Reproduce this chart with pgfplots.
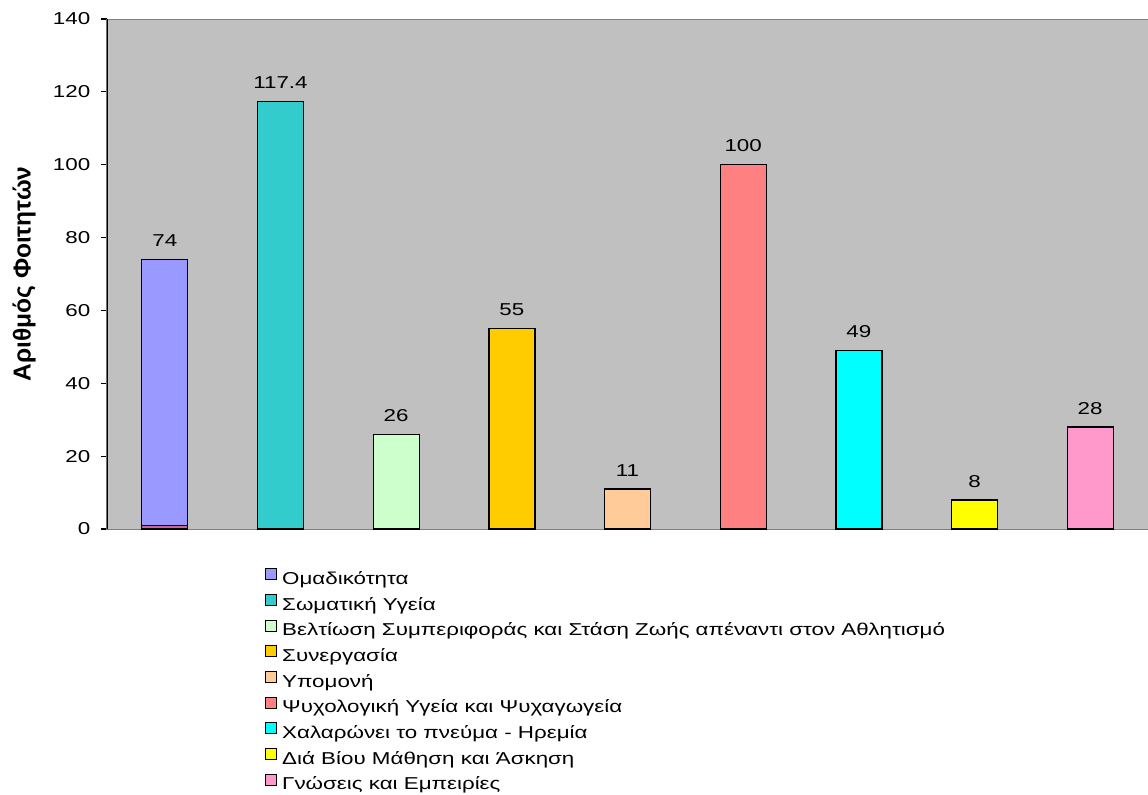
\documentclass[border=0pt]{standalone}
\usepackage{fontspec}
\setmainfont{Liberation Sans}[FakeStretch=1.3]
\newfontfamily\ylabfont{Liberation Sans}
\usepackage{pgfplots}
\pgfplotsset{compat=1.18}

\definecolor{plotbg}{RGB}{192,192,192}
\definecolor{frame}{RGB}{128,128,128}
\definecolor{cA}{RGB}{153,153,255}
\definecolor{cB}{RGB}{51,204,204}
\definecolor{cC}{RGB}{204,255,204}
\definecolor{cD}{RGB}{255,204,0}
\definecolor{cE}{RGB}{255,204,153}
\definecolor{cF}{RGB}{255,128,128}
\definecolor{cG}{RGB}{0,255,255}
\definecolor{cH}{RGB}{255,255,0}
\definecolor{cI}{RGB}{255,153,204}
\definecolor{cJ}{RGB}{204,102,153}

\newcommand{\lblfont}{\fontsize{12.9}{14}\selectfont}

\begin{document}
\begin{tikzpicture}
\useasboundingbox (-80.25pt,-198.75pt) rectangle (780.75pt,396.75pt);
\begin{axis}[
  at={(0,0)}, anchor=south west,
  scale only axis, width=780.75pt, height=382.5pt,
  xmin=-0.5, xmax=8.5, ymin=0, ymax=140,
  xtick=\empty, ytick={0,20,...,140},
  axis background/.style={fill=plotbg},
  axis line style={draw=frame, line width=0.75pt},
  tick align=outside, major tick length=4.5pt,
  y tick style={black, line width=0.8pt},
  tick label style={font=\lblfont},
  yticklabel style={xshift=-4.5pt},
  /pgf/number format/assume math mode=true,
  ylabel={\ylabfont\fontsize{18.4}{20}\selectfont\bfseries Αριθμός Φοιτητών},
  every axis y label/.style={at={(axis description cs:-0.0797,0.5)}, rotate=90, anchor=center},
  ybar, bar width=34.5pt, bar shift=0pt,
  every axis plot/.append style={draw=black, line width=1pt,
    legend image code/.code={\draw[#1, draw=black, line width=0.7pt] (0pt,0.4pt) rectangle (8.25pt,8.65pt);}},
  nodes near coords,
  every node near coord/.append style={font=\lblfont, anchor=south, inner sep=0pt, yshift=9pt, black},
  legend cell align=left,
  legend style={at={(axis description cs:0.1518,-0.0765)}, anchor=north west,
    draw=none, fill=none, inner sep=0pt, row sep=4pt, font=\lblfont,
    nodes={inner sep=0pt, text height=9.3pt, text depth=3.2pt},
    /tikz/every odd column/.append style={column sep=3.75pt}},
]
\addplot[fill=cA] coordinates {(0,74)};
\addlegendentry{Ομαδικότητα}
\addplot[fill=cB] coordinates {(1,117.4)};
\addlegendentry{Σωματική Υγεία}
\addplot[fill=cC] coordinates {(2,26)};
\addlegendentry{Βελτίωση Συμπεριφοράς και Στάση Ζωής απέναντι στον Αθλητισμό}
\addplot[fill=cD] coordinates {(3,55)};
\addlegendentry{Συνεργασία}
\addplot[fill=cE] coordinates {(4,11)};
\addlegendentry{Υπομονή}
\addplot[fill=cF] coordinates {(5,100)};
\addlegendentry{Ψυχολογική Υγεία και Ψυχαγωγεία}
\addplot[fill=cG] coordinates {(6,49)};
\addlegendentry{Χαλαρώνει το πνεύμα - Ηρεμία}
\addplot[fill=cH] coordinates {(7,8)};
\addlegendentry{Διά Βίου Μάθηση και Άσκηση}
\addplot[fill=cI] coordinates {(8,28)};
\addlegendentry{Γνώσεις και Εμπειρίες}
% thin base segment of the first bar
\addplot[fill=cJ, forget plot, nodes near coords={}] coordinates {(0,1)};
% left spine drawn in black over the grey frame
\draw[black, line width=1.1pt] (rel axis cs:0,0) -- (rel axis cs:0,1);
\end{axis}
\end{tikzpicture}
\end{document}
